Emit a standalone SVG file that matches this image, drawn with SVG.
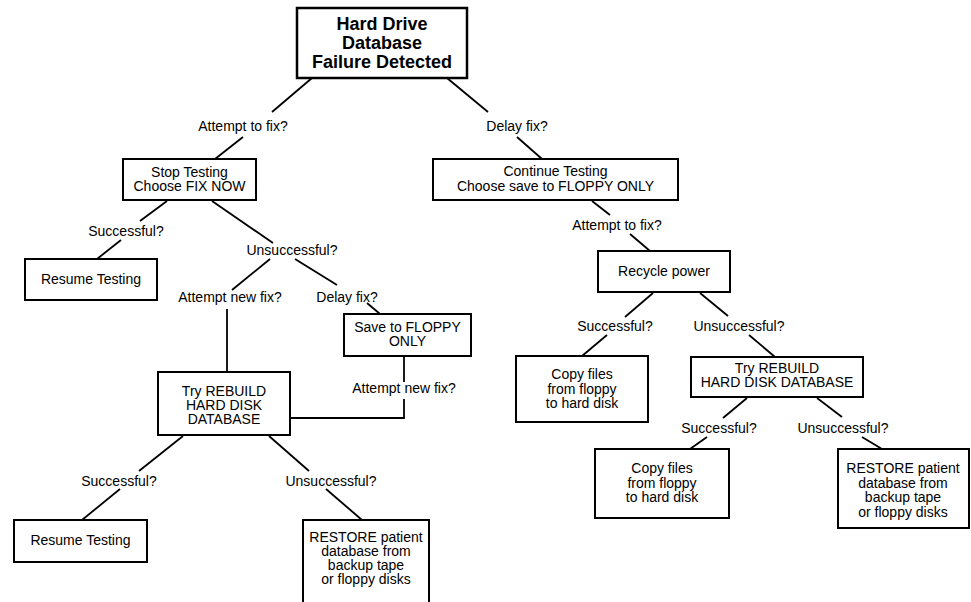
<svg xmlns="http://www.w3.org/2000/svg" width="971" height="602" viewBox="0 0 971 602">
<style>
.box{fill:#fff;stroke:#000;stroke-width:2}
.t{font-family:"Liberation Sans",Arial,sans-serif;font-size:14px;fill:#000;text-anchor:middle}
.tb{font-family:"Liberation Sans",Arial,sans-serif;font-size:18px;font-weight:bold;fill:#000;text-anchor:middle}
#connectors line,#connectors polyline{stroke:#000;stroke-width:1.8;fill:none}
</style>
<rect width="971" height="602" fill="#fff"/>
<g id="connectors">
<line x1="312" y1="78" x2="272" y2="112"/>
<line x1="447" y1="78" x2="488" y2="112"/>
<line x1="243" y1="137" x2="215" y2="159"/>
<line x1="167" y1="201" x2="140" y2="221"/>
<line x1="121" y1="240" x2="97" y2="259"/>
<line x1="212" y1="201" x2="273" y2="243"/>
<line x1="270" y1="259" x2="232" y2="290"/>
<line x1="295" y1="259" x2="337" y2="285"/>
<line x1="227" y1="309" x2="227" y2="372"/>
<line x1="367" y1="303" x2="380" y2="314"/>
<line x1="404" y1="356" x2="404" y2="382"/>
<polyline points="404,399 404,418 290,418"/>
<line x1="183" y1="436" x2="139" y2="471"/>
<line x1="120" y1="489" x2="82" y2="520"/>
<line x1="269" y1="436" x2="309" y2="471"/>
<line x1="326" y1="489" x2="362" y2="520"/>
<line x1="517" y1="137" x2="542" y2="159"/>
<line x1="592" y1="201" x2="610" y2="215"/>
<line x1="630" y1="234" x2="650" y2="251"/>
<line x1="653" y1="293" x2="625" y2="317"/>
<line x1="607" y1="335" x2="582" y2="356"/>
<line x1="700" y1="293" x2="728" y2="316"/>
<line x1="749" y1="335" x2="775" y2="357"/>
<line x1="747" y1="398" x2="723" y2="418"/>
<line x1="707" y1="437" x2="690" y2="449"/>
<line x1="817" y1="398" x2="842" y2="417"/>
<line x1="862" y1="437" x2="882" y2="449"/>
</g>
<g id="labels">
<text class="t" x="243" y="131">Attempt to fix?</text>
<text class="t" x="517" y="131">Delay fix?</text>
<text class="t" x="126" y="236">Successful?</text>
<text class="t" x="292" y="255">Unsuccessful?</text>
<text class="t" x="230" y="302">Attempt new fix?</text>
<text class="t" x="347" y="302">Delay fix?</text>
<text class="t" x="404" y="393">Attempt new fix?</text>
<text class="t" x="119" y="486">Successful?</text>
<text class="t" x="331" y="486">Unsuccessful?</text>
<text class="t" x="617" y="230">Attempt to fix?</text>
<text class="t" x="615" y="331">Successful?</text>
<text class="t" x="739" y="331">Unsuccessful?</text>
<text class="t" x="719" y="433">Successful?</text>
<text class="t" x="843" y="433">Unsuccessful?</text>
</g>
<g id="n-failure">
<rect class="box" x="297" y="8" width="170" height="70" style="stroke-width:2.5"/>
<text class="tb" x="382" y="30">Hard Drive</text>
<text class="tb" x="382" y="49">Database</text>
<text class="tb" x="382" y="68">Failure Detected</text>
</g>
<g id="n-stop">
<rect class="box" x="123" y="159" width="133" height="41"/>
<text class="t" x="189.5" y="177">Stop Testing</text>
<text class="t" x="189.5" y="191">Choose FIX NOW</text>
</g>
<g id="n-resume1">
<rect class="box" x="25" y="259" width="132" height="41"/>
<text class="t" x="91" y="284">Resume Testing</text>
</g>
<g id="n-save">
<rect class="box" x="344" y="314" width="127" height="42"/>
<text class="t" x="407.5" y="332">Save to FLOPPY</text>
<text class="t" x="407.5" y="346">ONLY</text>
</g>
<g id="n-rebuild1">
<rect class="box" x="158" y="372" width="132" height="63"/>
<text class="t" x="224" y="396">Try REBUILD</text>
<text class="t" x="224" y="410">HARD DISK</text>
<text class="t" x="224" y="424">DATABASE</text>
</g>
<g id="n-resume2">
<rect class="box" x="14" y="520" width="133" height="42"/>
<text class="t" x="80.5" y="545">Resume Testing</text>
</g>
<g id="n-restore1">
<rect class="box" x="303" y="520" width="126" height="95"/>
<text class="t" x="366" y="542">RESTORE patient</text>
<text class="t" x="366" y="556">database from</text>
<text class="t" x="366" y="570">backup tape</text>
<text class="t" x="366" y="584">or floppy disks</text>
</g>
<g id="n-continue">
<rect class="box" x="433" y="159" width="245" height="41"/>
<text class="t" x="555.5" y="176">Continue Testing</text>
<text class="t" x="555.5" y="191">Choose save to FLOPPY ONLY</text>
</g>
<g id="n-recycle">
<rect class="box" x="598" y="251" width="132" height="41"/>
<text class="t" x="664" y="276">Recycle power</text>
</g>
<g id="n-copy1">
<rect class="box" x="516" y="356" width="132" height="66"/>
<text class="t" x="582" y="379">Copy files</text>
<text class="t" x="582" y="394">from floppy</text>
<text class="t" x="582" y="408">to hard disk</text>
</g>
<g id="n-rebuild2">
<rect class="box" x="691" y="357" width="172" height="40"/>
<text class="t" x="777" y="373">Try REBUILD</text>
<text class="t" x="777" y="387">HARD DISK DATABASE</text>
</g>
<g id="n-copy2">
<rect class="box" x="595" y="449" width="134" height="69"/>
<text class="t" x="662" y="473">Copy files</text>
<text class="t" x="662" y="488">from floppy</text>
<text class="t" x="662" y="502">to hard disk</text>
</g>
<g id="n-restore2">
<rect class="box" x="838" y="449" width="131" height="79"/>
<text class="t" x="903" y="473">RESTORE patient</text>
<text class="t" x="903" y="488">database from</text>
<text class="t" x="903" y="502">backup tape</text>
<text class="t" x="903" y="517">or floppy disks</text>
</g>
</svg>
